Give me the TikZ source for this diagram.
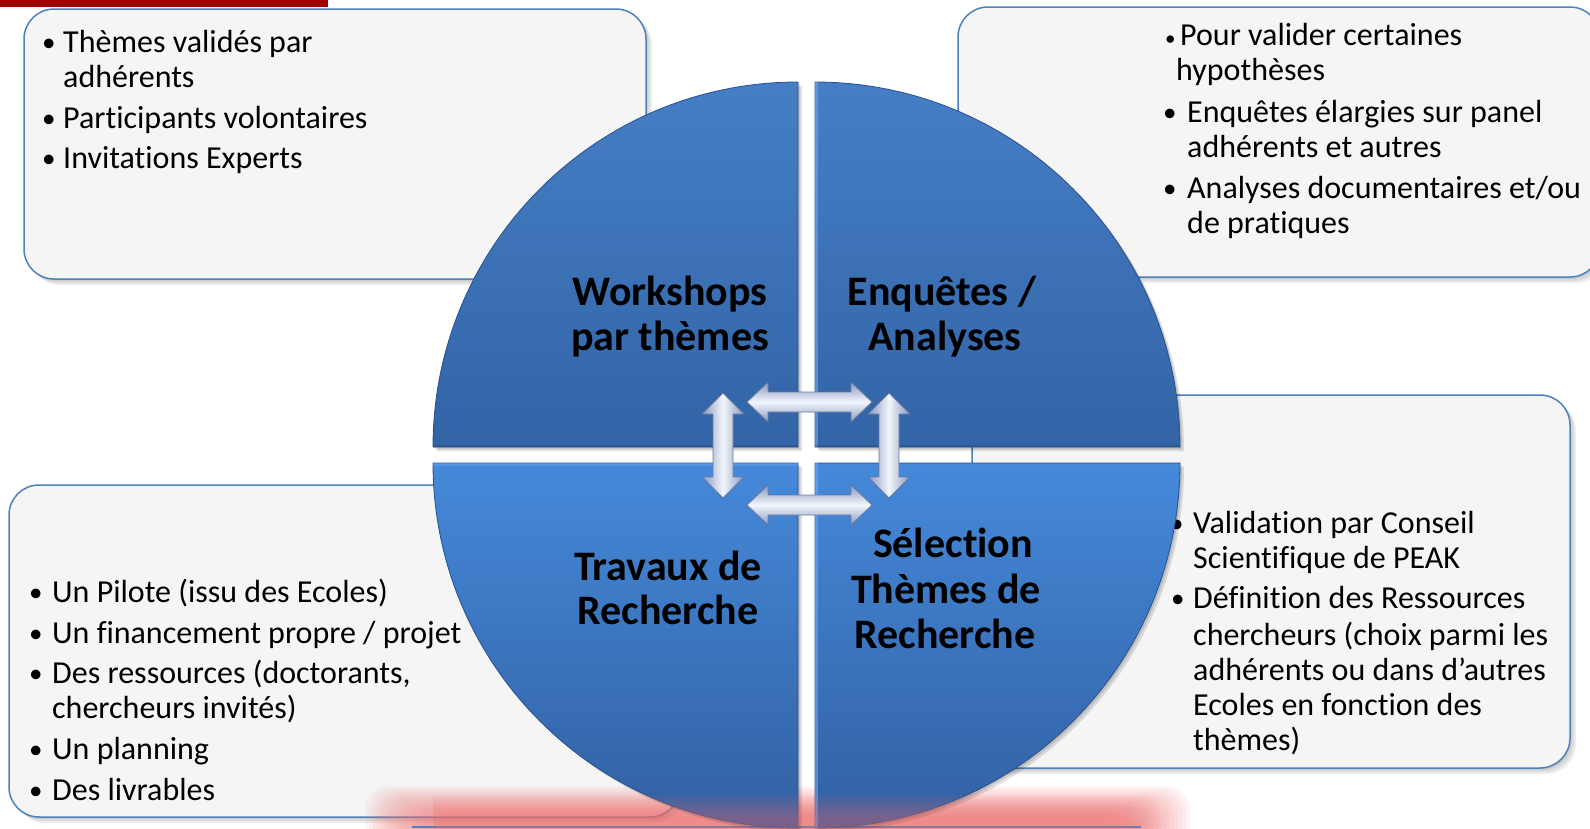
\documentclass[tikz,border=0pt]{standalone}
\usepackage{fontspec}
\setmainfont{Carlito}[Ligatures=NoCommon]
\definecolor{boxblue}{RGB}{79,129,189}
\definecolor{boxfill}{RGB}{245,245,245}
\definecolor{qtopA}{RGB}{70,126,198}
\definecolor{qtopB}{RGB}{50,100,166}
\definecolor{qbotA}{RGB}{69,137,218}
\definecolor{qbotB}{RGB}{50,96,162}
\definecolor{qedge}{RGB}{40,80,140}
\definecolor{qlight}{RGB}{110,170,235}
\definecolor{arrowlight}{RGB}{242,246,252}
\definecolor{arrowdark}{RGB}{136,152,190}
\definecolor{arrowedge}{RGB}{105,120,160}
\definecolor{redbar}{RGB}{160,0,0}
\definecolor{glowred}{RGB}{240,110,110}
\tikzset{
  infobox/.style={draw=boxblue, line width=1.5pt, fill=boxfill, rounded corners=30pt},
  boxshadow/.style={fill=black, opacity=0.07, rounded corners=30pt},
  txt/.style={anchor=base west, inner sep=0pt, font=\fontsize{32}{36}\selectfont, text=black},
  bul/.style={anchor=base west, inner sep=0pt, font=\fontsize{27}{30}\selectfont, text=black},
  smallbul/.style={anchor=base west, inner sep=0pt, font=\fontsize{21}{26}\selectfont, text=black},
  ttl/.style={anchor=base, inner sep=0pt, font=\fontsize{42}{48}\selectfont\bfseries, text=black},
  quadtop/.style={top color=qtopA, bottom color=qtopB, draw=qedge, line width=0.8pt},
  quadbot/.style={top color=qbotA, bottom color=qbotB, draw=qedge, line width=0.8pt},
  quadshadow/.style={fill=black, opacity=0.12},
  blockarrow/.style={draw=arrowedge, line width=0.8pt, line join=round},
  harrowfill/.style={top color=arrowdark, bottom color=arrowdark, middle color=arrowlight},
  varrowfill/.style={left color=arrowdark, right color=arrowdark, middle color=arrowlight},
}
\def\qTL{(798,447) -- (433,447) arc[start angle=180, end angle=90, radius=365pt] -- cycle}
\def\qTR{(815,447) -- (1180,447) arc[start angle=0, end angle=90, radius=365pt] -- cycle}
\def\qBL{(798,463) -- (433,463) arc[start angle=180, end angle=270, radius=365pt] -- cycle}
\def\qBR{(815,463) -- (1180,463) arc[start angle=0, end angle=-90, radius=365pt] -- cycle}
\begin{document}
\begin{tikzpicture}[x=1pt, y=-1pt]
\useasboundingbox (0,0) rectangle (1590,828);
\clip (0,0) rectangle (1590,828);
\fill[white] (0,0) rectangle (1590,828);
% red bar
\fill[redbar] (0,0) rectangle (328,7);
% box shadows
\foreach \d in {2,4,6} {
  \fill[boxshadow] (24+\d,9+\d) rectangle (646+\d,279+\d);
  \fill[boxshadow] (958+\d,7+\d) rectangle (1600+\d,277+\d);
  \fill[boxshadow] (972+\d,395+\d) rectangle (1570+\d,768+\d);
  \fill[boxshadow] (9+\d,485+\d) rectangle (680+\d,817+\d);
}
% boxes
\path[infobox] (24,9) rectangle (646,279);
\path[infobox] (958,7) rectangle (1600,277);
\path[infobox] (972,395) rectangle (1570,768);
\path[infobox] (9,485) rectangle (680,817);
% texts of top-left box
\node[bul] (tlb1) at (42,51) {•};
\node[txt] (tl1a) at (63,52) {Thèmes validés par};
\node[txt] (tl1b) at (63,87) {adhérents};
\node[bul] (tlb2) at (42,127) {•};
\node[txt] (tl2) at (63,128) {Participants volontaires};
\node[bul] (tlb3) at (42,167) {•};
\node[txt] (tl3) at (63,168) {Invitations Experts};
% texts of top-right box
\node[smallbul] (trb1) at (1165,45) {•};
\node[txt] (tr1a) at (1180,45) {Pour valider certaines};
\node[txt] (tr1b) at (1176,80) {hypothèses};
\node[bul] (trb2) at (1163,121) {•};
\node[txt] (tr2a) at (1187,122) {Enquêtes élargies sur panel};
\node[txt] (tr2b) at (1187,157) {adhérents et autres};
\node[bul] (trb3) at (1163,197) {•};
\node[txt] (tr3a) at (1187,198) {Analyses documentaires et/ou};
\node[txt] (tr3b) at (1187,233) {de pratiques};
% texts of middle-right box
\node[bul] (mrb1) at (1170,532) {•};
\node[txt] (mr1a) at (1193,533) {Validation par Conseil};
\node[txt] (mr1b) at (1193,568) {Scientifique de PEAK};
\node[bul] (mrb2) at (1171,607) {•};
\node[txt] (mr2a) at (1193,608) {Définition des Ressources};
\node[txt] (mr2b) at (1193,645) {chercheurs (choix parmi les};
\node[txt] (mr2c) at (1193,680) {adhérents ou dans d’autres};
\node[txt] (mr2d) at (1193,715) {Ecoles en fonction des};
\node[txt] (mr2e) at (1193,750) {thèmes)};
% texts of bottom-left box
\node[bul] (blb1) at (29,601) {•};
\node[txt] (bl1) at (52,602) {Un Pilote (issu des Ecoles)};
\node[bul] (blb2) at (29,642) {•};
\node[txt] (bl2) at (52,643) {Un financement propre / projet};
\node[bul] (blb3) at (29,682) {•};
\node[txt] (bl3a) at (52,683) {Des ressources (doctorants,};
\node[txt] (bl3b) at (52,718) {chercheurs invités)};
\node[bul] (blb4) at (29,758) {•};
\node[txt] (bl4) at (52,759) {Un planning};
\node[bul] (blb5) at (29,799) {•};
\node[txt] (bl5) at (52,800) {Des livrables};
% red glow at the bottom
\foreach \i in {0,...,13} {
  \fill[glowred, opacity=0.065, rounded corners=24pt] ({365+4*\i},{786+2.2*\i}) rectangle ({1190-4*\i},870);
}
\draw[boxblue, line width=1.5pt] (412,827) -- (1141,827);
% quadrant shadows
\foreach \d in {2,4} {
  \begin{scope}[shift={(\d,\d)}]
    \fill[quadshadow] \qTL; \fill[quadshadow] \qTR; \fill[quadshadow] \qBL; \fill[quadshadow] \qBR;
  \end{scope}
}
% quadrants
\path[quadtop] \qTL;
\path[quadtop] \qTR;
\path[quadbot] \qBL;
\path[quadbot] \qBR;
% bevel highlights
\begin{scope}
  \clip \qTR;
  \draw[qlight, line width=6pt, opacity=0.6] (815,60) -- (815,447);
\end{scope}
\begin{scope}
  \clip \qBR;
  \draw[qlight, line width=6pt, opacity=0.6] (815,463) -- (815,828);
\end{scope}
\begin{scope}
  \clip \qBL;
  \draw[qlight, line width=5pt, opacity=0.4] (433,463) -- (798,463);
\end{scope}
\begin{scope}
  \clip \qTL;
  \draw[qedge, line width=5pt, opacity=0.5] (433,447) -- (798,447);
\end{scope}
\begin{scope}
  \clip \qTR;
  \draw[qedge, line width=5pt, opacity=0.5] (815,447) -- (1180,447);
\end{scope}
% pink tint at the bottom of the circle
\begin{scope}
  \clip (433,463) rectangle (1180,828);
  \foreach \i in {0,...,7} {
    \fill[glowred, opacity=0.06, rounded corners=20pt] ({400+6*\i},{795+3*\i}) rectangle ({1160-6*\i},870);
  }
\end{scope}
% titles
\node[ttl] (w1) at (670,305) {Workshops};
\node[ttl] (w2) at (670,350) {par thèmes};
\node[ttl] (e1) at (942,305) {Enquêtes /};
\node[ttl] (e2) at (945,350) {Analyses};
\node[ttl] (t1) at (668,580) {Travaux de};
\node[ttl] (t2) at (668,624) {Recherche};
\node[ttl] (s1) at (953,557) {Sélection};
\node[ttl] (s2) at (946,603) {Thèmes de};
\node[ttl] (s3) at (945,648) {Recherche};
% block arrows
\path[blockarrow, harrowfill] (747,402) -- ++(21,-20) -- ++(0,10) -- ++(83,0) -- ++(0,-10) -- ++(21,20) -- ++(-21,20) -- ++(0,-10) -- ++(-83,0) -- ++(0,10) -- cycle;
\path[blockarrow, harrowfill] (747,505) -- ++(21,-20) -- ++(0,10) -- ++(83,0) -- ++(0,-10) -- ++(21,20) -- ++(-21,20) -- ++(0,-10) -- ++(-83,0) -- ++(0,10) -- cycle;
\path[blockarrow, varrowfill] (723,393) -- ++(21,21) -- ++(-11,0) -- ++(0,63) -- ++(11,0) -- ++(-21,21) -- ++(-21,-21) -- ++(11,0) -- ++(0,-63) -- ++(-11,0) -- cycle;
\path[blockarrow, varrowfill] (889,393) -- ++(21,21) -- ++(-11,0) -- ++(0,63) -- ++(11,0) -- ++(-21,21) -- ++(-21,-21) -- ++(11,0) -- ++(0,-63) -- ++(-11,0) -- cycle;
\end{tikzpicture}
\end{document}
